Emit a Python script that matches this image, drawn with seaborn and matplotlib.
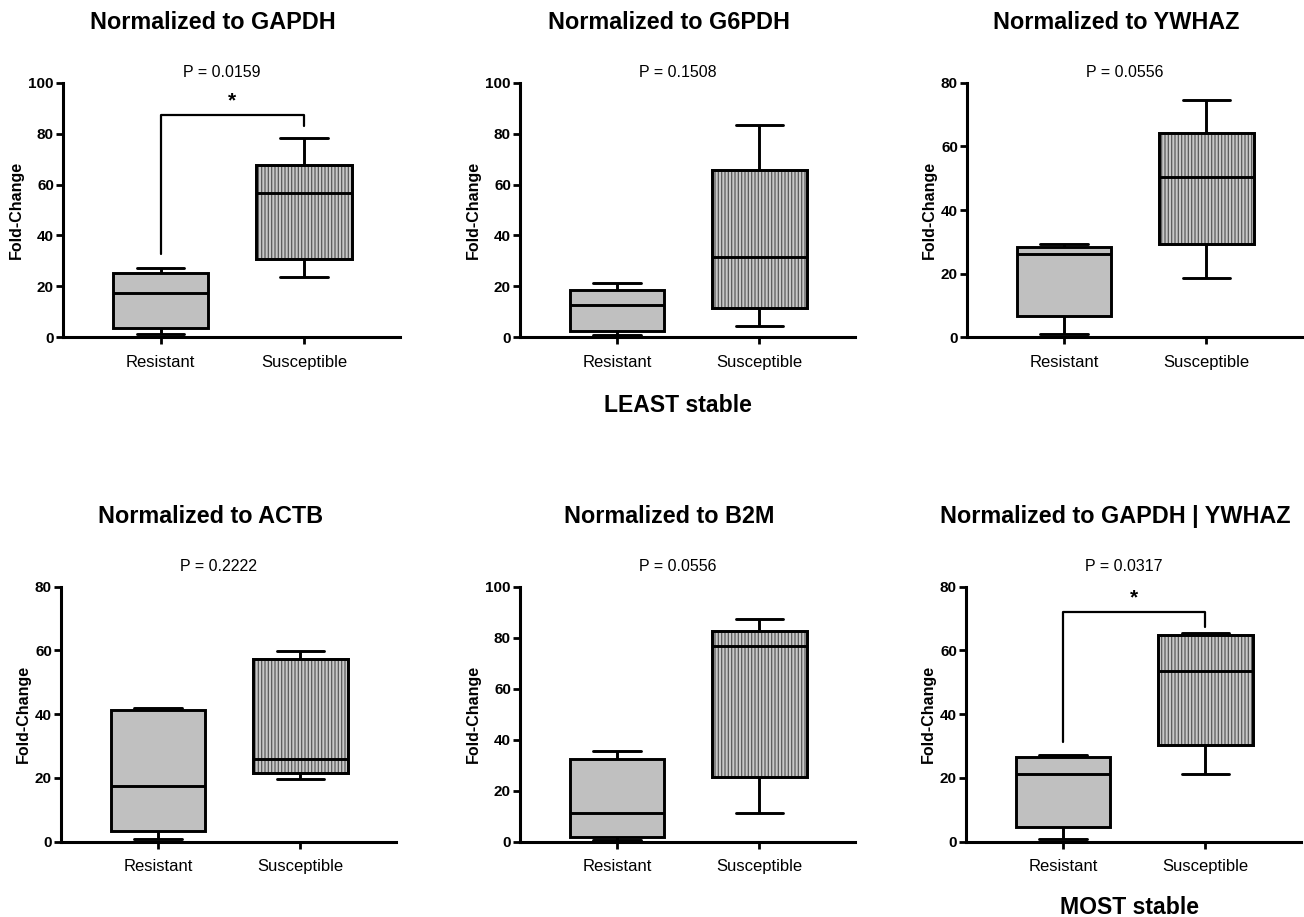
import matplotlib
matplotlib.use("Agg")
import matplotlib.pyplot as plt
import matplotlib.patches as mpatches
import seaborn as sns
import pandas as pd

groups = ["Resistant", "Susceptible"]
references = ["GAPDH", "G6PDH", "YWHAZ", "ACTB", "B2M", "GAPDH | YWHAZ"]
p_values = ["0.0159", "0.1508", "0.0556", "0.2222", "0.0556", "0.0317"]
y_tops = [100, 100, 80, 80, 100, 80]

# five values per group: min, Q1, median, Q3, max
resistant = [
    [1.2, 3.5, 17.5, 25.4, 27.1],
    [0.9, 2.6, 12.8, 18.6, 21.3],
    [1.0, 6.7, 26.1, 28.4, 29.4],
    [1.0, 3.5, 17.5, 41.3, 42.0],
    [0.8, 1.7, 11.3, 32.5, 35.5],
    [1.0, 4.7, 21.1, 26.7, 27.3],
]
susceptible = [
    [23.8, 30.9, 56.8, 67.5, 78.1],
    [4.6, 11.5, 31.4, 65.8, 83.4],
    [18.7, 29.4, 50.3, 64.1, 74.7],
    [19.6, 21.6, 26.1, 57.3, 59.8],
    [11.3, 25.3, 76.7, 82.7, 87.3],
    [21.2, 30.3, 53.6, 65.0, 65.4],
]

# significance brackets: panel -> (bar level, left leg end, right leg end, star level)
brackets = {0: (87.3, 32.7, 83.0, 93.0), 5: (72.0, 31.2, 67.5, 76.5)}

sns.set_style("ticks")
plt.rcParams["font.family"] = ["Liberation Sans", "DejaVu Sans"]
plt.rcParams["hatch.linewidth"] = 0.9
for key in ["text.color", "axes.labelcolor", "xtick.color", "ytick.color", "axes.edgecolor"]:
    plt.rcParams[key] = "black"

fig = plt.figure(figsize=(13.04, 9.17), dpi=100)

W, H = 1304, 917
# axes boxes in pixels: left, right, top, bottom
boxes_px = [
    (63, 400, 82.7, 337.3),
    (520, 855, 82.7, 337.3),
    (967, 1302, 82.7, 337.3),
    (61, 396, 586.7, 841.7),
    (520, 855, 586.7, 841.7),
    (966, 1301, 586.7, 841.7),
]

for i, (l, r, t, b) in enumerate(boxes_px):
    ax = fig.add_axes([l / W, 1 - b / H, (r - l) / W, (b - t) / H])
    df = pd.DataFrame({
        "group": [g for g in groups for _ in range(5)],
        "fold": resistant[i] + susceptible[i],
    })
    sns.boxplot(data=df, x="group", y="fold", hue="group",
                palette=["#c0c0c0", "#c8c8c8"], whis=(0, 100), width=0.665,
                linecolor="black", linewidth=2.1, legend=False, ax=ax)

    # vertical hatching on the susceptible box, outline kept black
    for p in list(ax.patches):
        if p.get_path().get_extents().x0 > 0.3:
            p.set_hatch("|||||")
            p.set_edgecolor("#5a5a5a")
            ax.add_patch(mpatches.PathPatch(p.get_path(), transform=p.get_transform(),
                                            fill=False, ec="black", lw=2.1,
                                            zorder=p.get_zorder() + 0.05))

    top = y_tops[i]
    ax.set_xlim(-0.68, 1.67)
    ax.set_ylim(0, top)
    ax.set_yticks(range(0, top + 1, 20))
    ax.set_xlabel("")
    ax.set_ylabel("Fold-Change", fontsize=11.5, fontweight="bold", labelpad=3)
    sns.despine(ax=ax)
    for s in ["left", "bottom"]:
        ax.spines[s].set_linewidth(2.2)
    ax.tick_params(axis="both", direction="out", length=5, width=2)
    ax.tick_params(axis="x", labelsize=12, pad=7.5)
    ax.tick_params(axis="y", labelsize=11, pad=1.5)
    for lab in ax.get_yticklabels():
        lab.set_fontweight("bold")

    row_top = i < 3
    ax.text(0.445, 1.235 if row_top else 1.277, f"Normalized to {references[i]}",
            transform=ax.transAxes, ha="center", va="center",
            fontsize=16.8, fontweight="bold")
    ax.text(0.47, 1.042 if row_top else 1.081, f"P = {p_values[i]}",
            transform=ax.transAxes, ha="center", va="center", fontsize=11.5)

    if i in brackets:
        bar, left_end, right_end, star = brackets[i]
        ax.plot([0, 0, 1, 1], [left_end, bar, bar, right_end], color="black",
                lw=1.6, clip_on=False, zorder=3)
        ax.text(0.5, star, "*", ha="center", va="center", fontsize=15,
                fontweight="bold")

fig.text(678 / W, 1 - 405 / H, "LEAST stable", ha="center", va="center",
         fontsize=16.6, fontweight="bold")
fig.text(1130 / W, 1 - 907 / H, "MOST stable", ha="center", va="center",
         fontsize=16.6, fontweight="bold")

fig.savefig("out.png", dpi=100)
